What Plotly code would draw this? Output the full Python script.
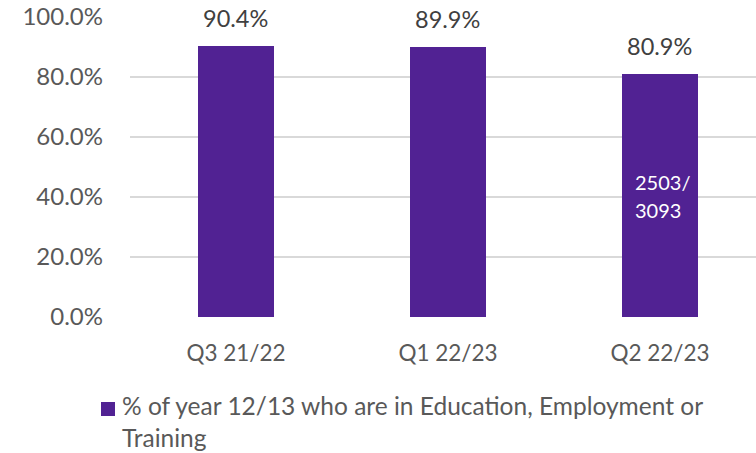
import plotly.graph_objects as go

# Quarterly share of year 12/13 pupils in education, employment or training
quarters = ["Q3 21/22", "Q1 22/23", "Q2 22/23"]
eet_pct = [90.4, 89.9, 80.9]
series_name = "% of year 12/13 who are in Education, Employment or<br>Training"

# Counts shown inside the latest bar (numerator / denominator)
count_quarter = "Q2 22/23"
count_num = 2503
count_den = 3093

y_ticks = [0, 20, 40, 60, 80, 100]
y_tick_text = [f"{v:.1f}%" for v in y_ticks]

BAR_COLOR = "#512293"
TEXT_GREY = "#595959"
FONT = "Lato"

# Plot area geometry (pixels) used to place the legend key below the axis
W, H = 756, 453
M_L, M_R, M_T, M_B = 130, 0, 17, 136
PLOT_W = W - M_L - M_R
PLOT_H = H - M_T - M_B


def px_x(x):
    return (x - M_L) / PLOT_W


def px_y(y):
    return (H - M_B - y) / PLOT_H


fig = go.Figure()
fig.add_trace(go.Bar(
    x=quarters,
    y=eet_pct,
    name=series_name,
    marker=dict(color=BAR_COLOR, line=dict(width=0)),
    width=0.357,
    showlegend=False,
))

# Value labels above each bar
for q, v in zip(quarters, eet_pct):
    fig.add_annotation(
        x=q, y=v, text=f"{v:.1f}%", showarrow=False,
        yanchor="middle", yshift=28,
        font=dict(family=FONT, size=23.5, color="#404040"),
    )

# Count labels inside the latest bar
fig.add_annotation(
    x=count_quarter, y=45, text=f"{count_num}/", showarrow=False,
    xanchor="left", xshift=-27, yanchor="middle",
    font=dict(family=FONT, size=20, color="white"),
)
fig.add_annotation(
    x=count_quarter, y=35.6, text=f"{count_den}", showarrow=False,
    xanchor="left", xshift=-27, yanchor="middle",
    font=dict(family=FONT, size=20, color="white"),
)

# Legend key: coloured square plus wrapped series name
fig.add_shape(
    type="rect", xref="paper", yref="paper",
    x0=px_x(101), x1=px_x(115), y0=px_y(416), y1=px_y(402),
    fillcolor=BAR_COLOR, line=dict(width=0),
)
fig.add_annotation(
    xref="paper", yref="paper", x=px_x(120), y=px_y(421),
    xanchor="left", yanchor="middle", align="left",
    text=series_name, showarrow=False,
    font=dict(family=FONT, size=24.5, color=TEXT_GREY),
)

fig.update_layout(
    width=W, height=H,
    margin=dict(l=M_L, r=M_R, t=M_T, b=M_B, autoexpand=False),
    paper_bgcolor="white", plot_bgcolor="white",
    font=dict(family=FONT, size=22, color=TEXT_GREY),
    showlegend=False,
    xaxis=dict(
        type="category", range=[-0.5, 2.453],
        showgrid=False, zeroline=False, showline=False,
        ticks="", ticklabelstandoff=20,
        tickfont=dict(size=22.5, color=TEXT_GREY),
    ),
    yaxis=dict(
        range=[0, 100], tickvals=y_ticks, ticktext=y_tick_text,
        showgrid=True, gridcolor="#D9D9D9", gridwidth=1.5,
        zeroline=False, showline=False, ticks="", ticklabelstandoff=26,
        tickfont=dict(size=24, color=TEXT_GREY),
    ),
    bargap=0,
)

fig.write_html("out.html")
